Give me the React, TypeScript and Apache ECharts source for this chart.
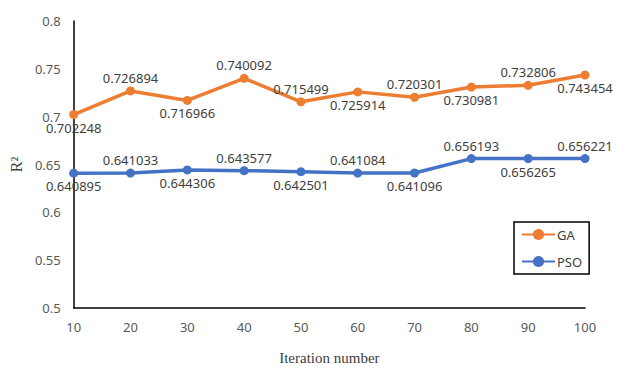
import React, { useEffect, useRef } from "react";
import * as echarts from "echarts";

const iterations = ["10", "20", "30", "40", "50", "60", "70", "80", "90", "100"];
const gaValues = [0.702248, 0.726894, 0.716966, 0.740092, 0.715499, 0.725914, 0.720301, 0.730981, 0.732806, 0.743454];
const psoValues = [0.640895, 0.641033, 0.644306, 0.643577, 0.642501, 0.641084, 0.641096, 0.656193, 0.656265, 0.656221];
const gaLabelPos = ["bottom", "top", "bottom", "top", "top", "bottom", "top", "bottom", "top", "bottom"];
const psoLabelPos = ["bottom", "top", "bottom", "top", "bottom", "top", "bottom", "top", "bottom", "top"];

const labelFont = { fontFamily: "Noto Sans", fontSize: 13, color: "#404040" };

function buildData(values: number[], positions: string[]) {
  return values.map((v, i) => ({
    value: v,
    label: { show: true, position: positions[i] as any, distance: 2, formatter: String(v), ...labelFont },
  }));
}

export default function App() {
  const ref = useRef<HTMLDivElement>(null);
  useEffect(() => {
    if (!ref.current) return;
    const chart = echarts.init(ref.current, undefined, { renderer: "svg" });
    chart.setOption({
      animation: false,
      backgroundColor: "#ffffff",
      grid: { left: 73, right: 36, top: 21, bottom: 63 },
      legend: {
        orient: "vertical",
        left: 514,
        top: 222,
        padding: [6, 7, 6, 7],
        itemGap: 14,
        itemWidth: 33,
        itemHeight: 14,
        borderColor: "#000000",
        borderWidth: 1.5,
        textStyle: { fontFamily: "Noto Sans", fontSize: 13, color: "#404040", padding: [0, 0, 0, -3] },
        data: ["GA", "PSO"],
      },
      xAxis: {
        type: "category",
        data: iterations,
        boundaryGap: false,
        name: "Iteration number",
        nameLocation: "middle",
        nameGap: 42,
        nameTextStyle: { fontFamily: "Liberation Serif", fontSize: 15, color: "#404040" },
        axisLine: { lineStyle: { color: "#000000", width: 1.5 } },
        axisTick: { show: false },
        axisLabel: { fontFamily: "Noto Sans", fontSize: 13, color: "#595959", margin: 12 },
        splitLine: { show: false },
      },
      yAxis: {
        type: "value",
        min: 0.5,
        max: 0.8,
        interval: 0.05,
        name: "R²",
        nameLocation: "middle",
        nameGap: 45,
        nameRotate: 90,
        nameTextStyle: { fontFamily: "Liberation Serif", fontSize: 16, color: "#404040" },
        axisLine: { show: true, lineStyle: { color: "#000000", width: 1.5 } },
        axisTick: { show: false },
        axisLabel: {
          fontFamily: "Noto Sans",
          fontSize: 13,
          color: "#595959",
          margin: 13,
          formatter: (v: number) => String(parseFloat(v.toFixed(2))),
        },
        splitLine: { show: false },
      },
      series: [
        {
          name: "GA",
          type: "line",
          data: buildData(gaValues, gaLabelPos),
          symbol: "circle",
          symbolSize: 9,
          lineStyle: { color: "#ED7D31", width: 3.5 },
          itemStyle: { color: "#ED7D31" },
        },
        {
          name: "PSO",
          type: "line",
          data: buildData(psoValues, psoLabelPos),
          symbol: "circle",
          symbolSize: 9,
          lineStyle: { color: "#4472C4", width: 3.5 },
          itemStyle: { color: "#4472C4" },
        },
      ],
    });
    return () => chart.dispose();
  }, []);
  return <div ref={ref} style={{ width: 621, height: 371, position: "absolute", left: 0, top: 0 }} />;
}
